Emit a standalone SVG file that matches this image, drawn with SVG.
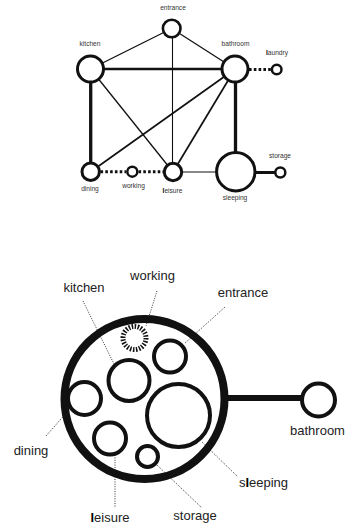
<svg xmlns="http://www.w3.org/2000/svg" width="349" height="531" viewBox="0 0 349 531">
  <style>
    .node { fill: #fff; stroke: #111; }
    .s-lbl { font-family: "Liberation Sans", Arial, sans-serif; font-size: 6.6px; fill: #333; text-anchor: middle; }
    .b-lbl { font-family: "Liberation Sans", Arial, sans-serif; font-size: 13px; fill: #222; text-anchor: middle; }
    .ell { font-weight: bold; fill: #000; }
    .edge { stroke: #111; fill: none; }
    .dots { stroke: #111; stroke-width: 3; stroke-dasharray: 2.6 2.2; fill: none; }
    .leader { stroke: #333; stroke-width: 1; stroke-dasharray: 1 1.4; fill: none; }
  </style>
  <rect width="349" height="531" fill="#fff"/>

  <!-- adjacency graph: connectors -->
  <g id="graph-edges">
    <line class="edge" x1="90.5" y1="69" x2="235" y2="69" stroke-width="2.3"/>
    <line class="edge" x1="90.5" y1="69" x2="171.7" y2="28.5" stroke-width="1.3"/>
    <line class="edge" x1="171.7" y1="28.5" x2="235" y2="69" stroke-width="1.3"/>
    <line class="edge" x1="172.5" y1="28.5" x2="172.5" y2="172" stroke-width="1.1"/>
    <line class="edge" x1="90.5" y1="69" x2="173" y2="172" stroke-width="1.3"/>
    <line class="edge" x1="235" y1="69" x2="90.7" y2="171.7" stroke-width="1.7"/>
    <line class="edge" x1="235" y1="69" x2="173" y2="172" stroke-width="1.7"/>
    <line class="edge" x1="90.7" y1="69" x2="90.7" y2="171.7" stroke-width="3.3"/>
    <line class="edge" x1="235.5" y1="69" x2="235.5" y2="171.7" stroke-width="3.3"/>
    <line class="edge" x1="173" y1="172" x2="235.8" y2="172" stroke-width="1" stroke="#444"/>
    <line class="edge" x1="235.8" y1="172.5" x2="280.3" y2="172.5" stroke-width="3"/>
    <line class="dots" x1="100.5" y1="171.7" x2="126" y2="171.7"/>
    <line class="dots" x1="138.5" y1="171.7" x2="163.5" y2="171.7"/>
    <line class="dots" x1="249" y1="69.5" x2="271" y2="69.5"/>
  </g>

  <!-- adjacency graph: rooms -->
  <g id="g-entrance"><circle class="node" cx="171.7" cy="28.5" r="8.8" stroke-width="2.6"/><text class="s-lbl" x="173" y="10">entrance</text></g>
  <g id="g-kitchen"><circle class="node" cx="90.5" cy="69" r="13" stroke-width="3"/><text class="s-lbl" x="90" y="46">kitchen</text></g>
  <g id="g-bathroom"><circle class="node" cx="235" cy="69" r="13" stroke-width="3"/><text class="s-lbl" x="235.5" y="46">bathroom</text></g>
  <g id="g-laundry"><circle class="node" cx="276.7" cy="69.5" r="4.8" stroke-width="2.5"/><text class="s-lbl" x="277" y="55"><tspan class="ell">l</tspan>aundry</text></g>
  <g id="g-dining"><circle class="node" cx="90.7" cy="171.7" r="8.7" stroke-width="3"/><text class="s-lbl" x="90" y="191">dining</text></g>
  <g id="g-working"><circle class="node" cx="132.3" cy="171.7" r="5" stroke-width="2.5"/><text class="s-lbl" x="133.5" y="188">working</text></g>
  <g id="g-leisure"><circle class="node" cx="173" cy="172" r="8.7" stroke-width="3"/><text class="s-lbl" x="172.5" y="192.5"><tspan class="ell">l</tspan>eisure</text></g>
  <g id="g-sleeping"><circle class="node" cx="235.8" cy="171.7" r="19.2" stroke-width="3"/><text class="s-lbl" x="235" y="200">sleeping</text></g>
  <g id="g-storage"><circle class="node" cx="280.3" cy="172.5" r="5" stroke-width="2.5"/><text class="s-lbl" x="280" y="158">storage</text></g>

  <!-- bubble plan: leaders and link -->
  <g id="plan-connectors">
    <line class="edge" x1="226" y1="398" x2="303" y2="398" stroke-width="6"/>
    <line class="leader" x1="83" y1="301" x2="114" y2="364"/>
    <line class="leader" x1="157" y1="291" x2="146" y2="326"/>
    <line class="leader" x1="225" y1="307" x2="184" y2="344"/>
    <line class="leader" x1="46" y1="436" x2="68" y2="411"/>
    <line class="leader" x1="115" y1="455" x2="115" y2="508"/>
    <line class="leader" x1="157" y1="465" x2="202" y2="508"/>
    <line class="leader" x1="202" y1="442" x2="238" y2="477"/>
  </g>

  <!-- bubble plan: zones -->
  <g id="p-unit"><circle cx="144.5" cy="399" r="80" fill="none" stroke="#111" stroke-width="8"/></g>
  <g id="p-working"><circle cx="134.5" cy="338" r="11.5" fill="none" stroke="#111" stroke-width="5" stroke-dasharray="1.5 1.5"/><text class="b-lbl" x="152.5" y="280">working</text></g>
  <g id="p-entrance"><circle class="node" cx="170" cy="356.5" r="16" stroke-width="4"/><text class="b-lbl" x="243" y="297">entrance</text></g>
  <g id="p-kitchen"><circle class="node" cx="129" cy="380.5" r="20.5" stroke-width="4"/><text class="b-lbl" x="84" y="292">kitchen</text></g>
  <g id="p-dining"><circle class="node" cx="84.5" cy="398.5" r="16.5" stroke-width="4"/><text class="b-lbl" x="31" y="455">dining</text></g>
  <g id="p-sleeping"><circle class="node" cx="178.5" cy="415.5" r="31.5" stroke-width="4"/><text class="b-lbl" x="263.5" y="487">s<tspan class="ell">l</tspan>eeping</text></g>
  <g id="p-leisure"><circle class="node" cx="110" cy="438.5" r="16" stroke-width="4"/><text class="b-lbl" x="110" y="522"><tspan class="ell">l</tspan>eisure</text></g>
  <g id="p-storage"><circle class="node" cx="147.5" cy="456.5" r="10.5" stroke-width="4"/><text class="b-lbl" x="195" y="520">storage</text></g>
  <g id="p-bathroom"><circle class="node" cx="318.5" cy="400" r="16.5" stroke-width="4"/><text class="b-lbl" x="317.5" y="435">bathroom</text></g>
</svg>
